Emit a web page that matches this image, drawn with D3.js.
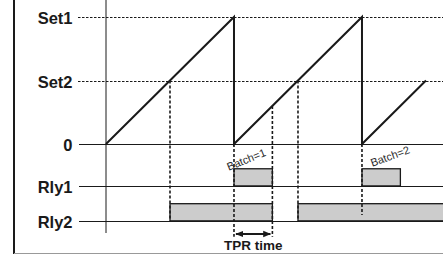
<!DOCTYPE html>
<html><head><meta charset="utf-8">
<script src="https://cdn.jsdelivr.net/npm/d3@7"></script>
<style>body{margin:0;background:#fff}svg{display:block}</style>
</head><body>
<script>
// ---- data ----
const rowLabels = ["Set1", "Set2", "0", "Rly1", "Rly2"];
const rowValues = [100, 50, 0, -33, -60.5];          // process value / relay baseline levels
const rowDashed = [true, true, false, false, false];
// process value sawtooth (time, value)
const rampTimes  = [0, 10, 10, 20, 20, 25];
const rampValues = [0, 100, 0, 100, 0, 50];
// relay on-intervals [start, end] in time units
const rly1On = [[10, 13], [20, 23]];
const rly2On = [[5, 13], [15, 27]];
const relayHigh = 13.5;
// dashed guide lines: time, from value, to value
const guideTimes = [5, 10, 13, 15, 20];
const guideFrom  = [50, 0, 30, 50, 0];
const guideTo    = [-60.5, -73, -73, -60.5, -56];
// annotations
const batchLabels = ["Batch=1", "Batch=2"];
const batchTimes = [9.6, 20.8];
const batchValues = [-21, -18];
const batchAngles = [-22, -20];
const tprRange = [10, 13];
const tprLabel = "TPR time";

const W = 443, H = 255;
const svg = d3.select("body").append("svg").attr("width", W).attr("height", H);
const x = d3.scaleLinear().domain([0, 26.33]).range([106, 443]);
const y = d3.scaleLinear().domain([0, 100]).range([144, 17]);
const ink = "#1a1a1a";

// frame
svg.append("line").attr("x1", 14).attr("x2", 14).attr("y1", 0).attr("y2", 254).attr("stroke", ink).attr("stroke-width", 2);
svg.append("line").attr("x1", 14).attr("x2", W).attr("y1", 253.5).attr("y2", 253.5).attr("stroke", "#999").attr("stroke-width", 1);

// row lines + labels
rowLabels.forEach((lab, i) => {
  const yy = Math.round(y(rowValues[i])) + 0.5;
  svg.append("line").attr("x1", rowDashed[i] ? 78 : 79).attr("x2", W)
    .attr("y1", yy).attr("y2", yy).attr("stroke", ink).attr("stroke-width", 1)
    .attr("stroke-dasharray", rowDashed[i] ? "2.5,1.5" : null);
  svg.append("text").attr("x", 72.5).attr("y", yy + 6).attr("text-anchor", "end")
    .attr("font-family", "Liberation Sans, Arial, sans-serif").attr("font-weight", "bold")
    .attr("font-size", 16.5).attr("fill", ink).text(lab);
});

// relay bars
function bars(list, base) {
  svg.append("g").selectAll("rect").data(list).join("rect")
    .attr("x", d => x(d[0])).attr("width", d => x(d[1]) - x(d[0]))
    .attr("y", y(base + relayHigh)).attr("height", y(base) - y(base + relayHigh))
    .attr("fill", "#cccccc").attr("stroke", ink).attr("stroke-width", 1.3);
}
bars(rly1On, rowValues[3]);
bars(rly2On, rowValues[4]);

// dashed guides
guideTimes.forEach((t, i) => {
  svg.append("line").attr("x1", x(t)).attr("x2", x(t)).attr("y1", y(guideFrom[i])).attr("y2", y(guideTo[i]))
    .attr("stroke", ink).attr("stroke-width", 1.6).attr("stroke-dasharray", "3,2");
});

// y axis
svg.append("line").attr("x1", 106).attr("x2", 106).attr("y1", 0).attr("y2", 233).attr("stroke", ink).attr("stroke-width", 1);

// sawtooth
const pts = rampTimes.map((t, i) => [t, rampValues[i]]);
svg.append("path").attr("d", d3.line().x(d => x(d[0])).y(d => y(d[1]))(pts))
  .attr("fill", "none").attr("stroke", ink).attr("stroke-width", 2).attr("stroke-linejoin", "miter");

// batch labels
batchLabels.forEach((lab, i) => {
  const bx = x(batchTimes[i]), by = y(batchValues[i]);
  svg.append("text").attr("transform", `translate(${bx},${by}) rotate(${batchAngles[i]})`)
    .attr("font-family", "Liberation Sans, Arial, sans-serif").attr("font-size", 11)
    .attr("fill", "#2a2a2a").text(lab);
});

// TPR arrow
const defs = svg.append("defs");
defs.append("marker").attr("id", "ah").attr("viewBox", "0 0 10 10").attr("refX", 9).attr("refY", 5)
  .attr("markerWidth", 4).attr("markerHeight", 4).attr("orient", "auto-start-reverse")
  .append("path").attr("d", "M0,1 L10,5 L0,9 Z").attr("fill", ink);
svg.append("line").attr("x1", x(tprRange[0]) + 2).attr("x2", x(tprRange[1]) - 2).attr("y1", 234).attr("y2", 234)
  .attr("stroke", ink).attr("stroke-width", 2)
  .attr("marker-start", "url(#ah)").attr("marker-end", "url(#ah)");
svg.append("text").attr("x", (x(tprRange[0]) + x(tprRange[1])) / 2).attr("y", 250).attr("text-anchor", "middle")
  .attr("font-family", "Liberation Sans, Arial, sans-serif").attr("font-weight", "bold")
  .attr("font-size", 13.5).attr("fill", ink).text(tprLabel);
</script>
</body></html>
